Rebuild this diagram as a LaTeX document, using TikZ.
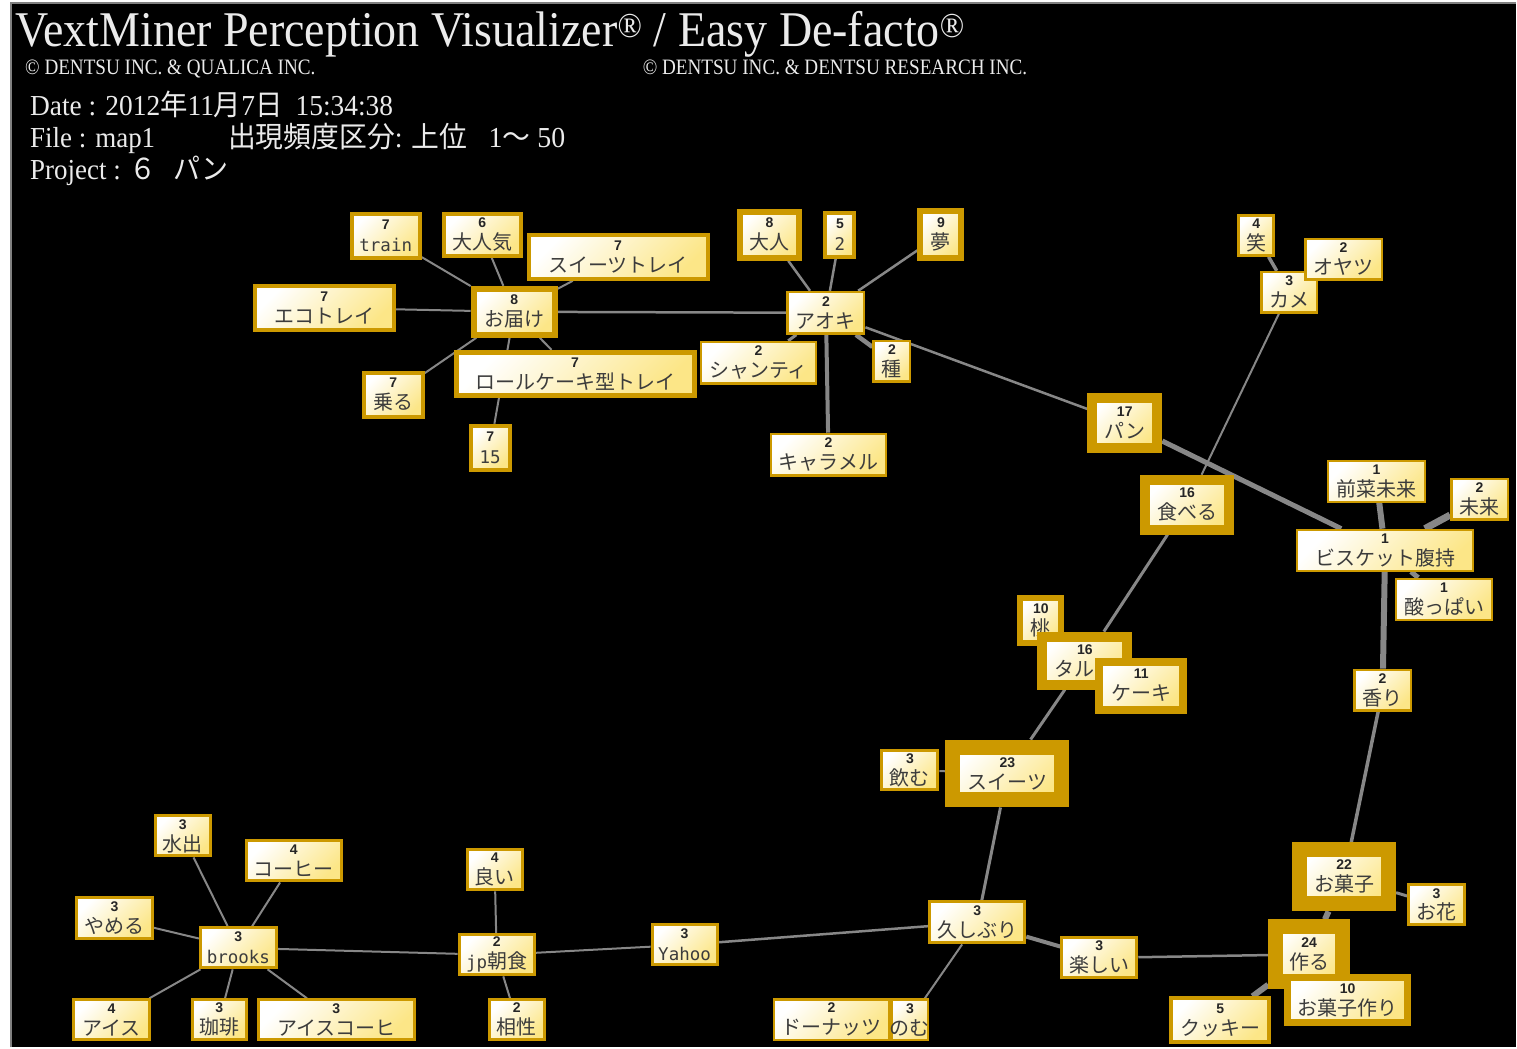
\documentclass[tikz,border=0pt]{standalone}
\usepackage{fontspec}
\usepackage{graphicx}
\setmainfont{Liberation Serif}
\newfontfamily\jp{Noto Sans CJK JP}
\newfontfamily\numf{Liberation Sans}
\newfontfamily\lat{DejaVu Sans Mono}
\definecolor{gold}{RGB}{204,153,0}
\definecolor{paley}{RGB}{252,230,135}
\definecolor{edgegray}{RGB}{135,135,135}
\definecolor{labgray}{RGB}{60,60,60}
\definecolor{hdr}{RGB}{235,235,235}
\pgfdeclarelayer{bg}
\pgfdeclarelayer{edges}
\pgfsetlayers{bg,edges,main}
\tikzset{
  wbox/.style={rectangle, draw=gold, inner sep=0pt, top color=white, bottom color=paley, shading angle=45,
    align=center, font=\jp\fontsize{20}{21}\selectfont, text=labgray},
  link/.style={draw=edgegray},
  hdrtxt/.style={text=hdr, inner sep=0pt, anchor=base west},
}
\newcommand\wn[8]{%
  \node[wbox, line width=#6pt, minimum width={(#4-#2-#6)*1pt}, minimum height={(#5-#3-#6)*1pt}]
    (#1) at ({(#2+#4)/2},{(#3+#5)/2})
    {\makebox[0pt]{\numf\bfseries\fontsize{14}{14}\selectfont\color{black!85}#7}\\[1pt]\makebox[0pt]{#8}};}
\newcommand\lt[1]{{\lat\fontsize{17.5}{19}\selectfont #1}}
\begin{document}
\begin{tikzpicture}[x=1pt,y=-1pt]
\begin{pgfonlayer}{bg}
  \fill[white] (0,0) rectangle (1517,1048);
  \fill[black] (11,3) rectangle (1517,1048);
  \draw[gray, line width=2pt] (11,1048) -- (11,3) -- (1517,3);
\end{pgfonlayer}
% header
\node[hdrtxt, font=\fontsize{50}{50}\selectfont] (title) at (15,47)
  {\scalebox{0.92}[1]{VextMiner Perception Visualizer\textsuperscript{®} / Easy De-facto\textsuperscript{®}}};
\node[hdrtxt, font=\fontsize{22}{22}\selectfont] (copy1) at (25,75) {\scalebox{0.87}[1]{© DENTSU INC. \& QUALICA INC.}};
\node[hdrtxt, font=\fontsize{22}{22}\selectfont] (copy2) at (643,75) {\scalebox{0.87}[1]{© DENTSU INC. \& DENTSU RESEARCH INC.}};
\node[hdrtxt, font=\fontsize{29}{29}\selectfont] (date) at (30,116)
  {\scalebox{0.945}[1]{Date : 2012{\jp 年}11{\jp 月}7{\jp 日}\hspace{14pt}15:34:38}};
\node[hdrtxt, font=\fontsize{29}{29}\selectfont] (file) at (30,148) {\scalebox{0.93}[1]{File : map1}};
\node[hdrtxt, font=\fontsize{29}{29}\selectfont] (range) at (228,148)
  {\scalebox{0.96}[1]{{\jp 出現頻度区分}: {\jp 上位}\hspace{22pt}1{\jp ～} 50}};
\node[hdrtxt, font=\fontsize{29}{29}\selectfont] (project) at (30,180)
  {\scalebox{0.93}[1]{Project : {\jp ６\hspace{18pt}パン}}};
% nodes: name, x1, y1, x2, y2, border, number, label
\wn{train}{350}{212}{422}{260}{4}{7}{\lt{train}}
\wn{daininki}{442}{212}{523}{258}{4}{6}{大人気}
\wn{sweetstray}{527}{233}{710}{281}{4}{7}{スイーツトレイ}
\wn{ecotray}{253}{284}{396}{332}{4}{7}{エコトレイ}
\wn{otodoke}{471}{286}{558}{338}{6}{8}{お届け}
\wn{roll}{454}{350}{697}{398}{5}{7}{ロールケーキ型トレイ}
\wn{noru}{362}{371}{425}{419}{4}{7}{乗る}
\wn{n15}{469}{424}{512}{472}{4}{7}{\lt{15}}
\wn{otona}{737}{209}{803}{261}{6}{8}{大人}
\wn{two}{824}{211}{857}{259}{4}{5}{\lt{2}}
\wn{yume}{918}{208}{965}{261}{6}{9}{夢}
\wn{aoki}{787}{291}{866}{335}{2.5}{2}{アオキ}
\wn{chantilly}{700}{341}{818}{385}{2.5}{2}{シャンティ}
\wn{tane}{873}{340}{912}{383}{2.5}{2}{種}
\wn{caramel}{770}{433}{888}{477}{2.5}{2}{キャラメル}
\wn{pan}{1088}{393}{1163}{453}{10}{17}{パン}
\wn{warai}{1238}{214}{1276}{257}{3}{4}{笑}
\wn{kame}{1261}{271}{1319}{314}{2.5}{3}{カメ}
\wn{oyatsu}{1305}{238}{1384}{281}{2.5}{2}{オヤツ}
\wn{taberu}{1141}{475}{1235}{535}{10}{16}{食べる}
\wn{zensai}{1328}{460}{1427}{503}{2}{1}{前菜未来}
\wn{mirai}{1451}{478}{1510}{521}{2.5}{2}{未来}
\wn{biscuit}{1297}{529}{1475}{572}{2}{1}{ビスケット腹持}
\wn{suppai}{1396}{578}{1494}{621}{2}{1}{酸っぱい}
\wn{kaori}{1354}{669}{1413}{712}{2.5}{2}{香り}
\wn{momo}{1018}{595}{1065}{646}{6}{10}{桃}
\wn{tart}{1038}{632}{1133}{690}{10}{16}{タルト}
\wn{cake}{1096}{658}{1188}{714}{8}{11}{ケーキ}
\wn{nomu}{881}{749}{940}{792}{3}{3}{飲む}
\wn{sweets}{946}{740}{1070}{808}{15}{23}{スイーツ}
\wn{okashi}{1293}{843}{1397}{912}{15}{22}{お菓子}
\wn{ohana}{1408}{884}{1467}{927}{3}{3}{お花}
\wn{tsukuru}{1269}{920}{1351}{990}{15}{24}{作る}
\wn{okashizukuri}{1285}{975}{1412}{1027}{7}{10}{お菓子作り}
\wn{cookie}{1170}{997}{1272}{1045}{4}{5}{クッキー}
\wn{hisashiburi}{929}{901}{1027}{945}{3}{3}{久しぶり}
\wn{tanoshii}{1061}{937}{1139}{980}{3}{3}{楽しい}
\wn{donut}{773}{999}{891}{1042}{2.5}{2}{ドーナッツ}
\wn{nomu2}{891}{999}{930}{1042}{2.5}{3}{のむ}
\wn{mizudashi}{154}{815}{212}{858}{3}{3}{水出}
\wn{coffee}{245}{840}{343}{883}{3}{4}{コーヒー}
\wn{yameru}{75}{897}{154}{941}{3}{3}{やめる}
\wn{brooks}{199}{927}{278}{970}{3}{3}{\lt{brooks}}
\wn{ice}{72}{999}{151}{1042}{3}{4}{アイス}
\wn{kohi}{191}{999}{248}{1042}{3}{3}{珈琲}
\wn{icecoffee}{257}{999}{416}{1042}{3}{3}{アイスコーヒ}
\wn{yoi}{466}{849}{524}{892}{3}{4}{良い}
\wn{jp}{458}{934}{536}{977}{3}{2}{\lt{jp}朝食}
\wn{aisho}{488}{999}{546}{1042}{3}{2}{相性}
\wn{yahoo}{651}{924}{719}{967}{3}{3}{\lt{Yahoo}}
% connectors
\begin{pgfonlayer}{edges}
  \draw[link, line width=2pt] (train) -- (otodoke);
  \draw[link, line width=2pt] (daininki) -- (otodoke);
  \draw[link, line width=2pt] (sweetstray) -- (otodoke);
  \draw[link, line width=2pt] (ecotray) -- (otodoke);
  \draw[link, line width=2pt] (noru) -- (otodoke);
  \draw[link, line width=2pt] (n15) -- (otodoke);
  \draw[link, line width=2pt] (roll) -- (otodoke);
  \draw[link, line width=2.5pt] (otodoke) -- (aoki);
  \draw[link, line width=2.5pt] (otona) -- (aoki);
  \draw[link, line width=2.5pt] (two) -- (aoki);
  \draw[link, line width=2.5pt] (yume) -- (aoki);
  \draw[link, line width=3pt] (chantilly) -- (aoki);
  \draw[link, line width=4.5pt] (tane) -- (aoki);
  \draw[link, line width=4pt] (caramel) -- (aoki);
  \draw[link, line width=2.5pt] (aoki) -- (pan);
  \draw[link, line width=5pt] (pan) -- (biscuit);
  \draw[link, line width=3.5pt] (warai) -- (kame);
  \draw[link, line width=2pt] (kame) -- (taberu);
  \draw[link, line width=6pt] (zensai) -- (biscuit);
  \draw[link, line width=7pt] (mirai) -- (biscuit);
  \draw[link, line width=5pt] (biscuit) -- (suppai);
  \draw[link, line width=6pt] (biscuit) -- (kaori);
  \draw[link, line width=3.5pt] (kaori) -- (okashi);
  \draw[link, line width=3pt] (okashi) -- (ohana);
  \draw[link, line width=6pt] (okashi) -- (tsukuru);
  \draw[link, line width=6pt] (tsukuru) -- (cookie);
  \draw[link, line width=3pt] (tsukuru) -- (okashizukuri);
  \draw[link, line width=2.5pt] (tsukuru) -- (tanoshii);
  \draw[link, line width=4pt] (hisashiburi) -- (tanoshii);
  \draw[link, line width=2pt] (hisashiburi) -- (nomu2);
  \draw[link, line width=2.5pt] (yahoo) -- (hisashiburi);
  \draw[link, line width=2pt] (jp) -- (yahoo);
  \draw[link, line width=2pt] (brooks) -- (jp);
  \draw[link, line width=2pt] (yoi) -- (jp);
  \draw[link, line width=2pt] (jp) -- (aisho);
  \draw[link, line width=2pt] (mizudashi) -- (brooks);
  \draw[link, line width=2pt] (coffee) -- (brooks);
  \draw[link, line width=2pt] (yameru) -- (brooks);
  \draw[link, line width=2pt] (ice) -- (brooks);
  \draw[link, line width=2pt] (kohi) -- (brooks);
  \draw[link, line width=2pt] (icecoffee) -- (brooks);
  \draw[link, line width=3pt] (taberu) -- (tart);
  \draw[link, line width=3pt] (tart) -- (sweets);
  \draw[link, line width=2pt] (nomu) -- (sweets);
  \draw[link, line width=3pt] (sweets) -- (hisashiburi);
\end{pgfonlayer}
\end{tikzpicture}
\end{document}
